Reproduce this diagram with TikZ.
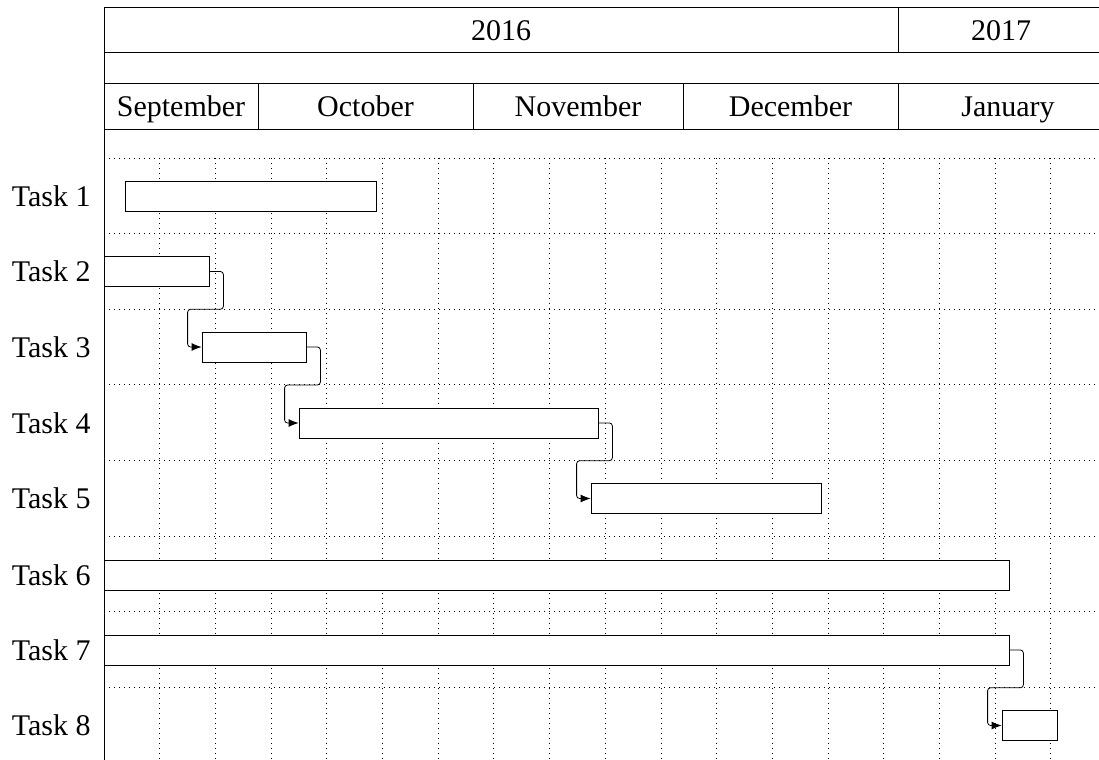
\documentclass[tikz,border=0pt]{standalone}
\usepackage{fontspec}
\setmainfont{Liberation Serif}
\usetikzlibrary{arrows.meta,fit,calc}
\tikzset{
  ganttbar/.style={
    rectangle, draw=black, fill=white, inner sep=0pt
  },
  tasklabel/.style={
    anchor=east, inner sep=0pt,
    font=\fontsize{15}{18}\selectfont
  },
  titlelabel/.style={
    anchor=base, inner sep=0pt, font=\fontsize{15}{18}\selectfont
  },
  gridline/.style={dotted, line width=0.5pt},
  tasklink/.style={
    -{Latex[length=5pt,width=4pt]}, rounded corners=1.5pt
  },
}

\begin{document}
\begin{tikzpicture}[x=0.5pt, y=-0.5pt]
  \useasboundingbox (0,0) rectangle (1099,760);
  % grid
  \foreach \k in {1,...,17}
    \draw[gridline] ({104+55.7*\k},158) -- ({104+55.7*\k},760);
  \foreach \k in {0,...,7}
    \draw[gridline] (104,{158+75.6*\k}) -- (1099,{158+75.6*\k});
  % calendar
  \draw (1099,7) -- (104,7) -- (104,760);
  \foreach \y in {52,83,129} \draw (104,\y) -- (1099,\y);
  \draw (898,7) -- (898,52);
  \foreach \x in {258,473,683,898} \draw (\x,83) -- (\x,129);
  \node[titlelabel] (y2016) at (501,40) {2016};
  \node[titlelabel] (y2017) at (1001,40) {2017};
  \node[titlelabel] (sep) at (181,116) {September};
  \node[titlelabel] (oct) at (365.5,116) {October};
  \node[titlelabel] (nov) at (578,116) {November};
  \node[titlelabel] (dec) at (790.5,116) {December};
  \node[titlelabel] (jan) at (1008,116) {January};
  % tasks
  \foreach \i/\y in {1/196,2/271.5,3/347,4/423,5/498.5,6/575,7/650,8/725.5}
    \node[tasklabel] (l\i) at (91,\y) {Task \i};
  \node[ganttbar, fit={(125,181) (376,211)}] (t1) {};
  \node[ganttbar, fit={(104,256.5) (209,286.5)}] (t2) {};
  \node[ganttbar, fit={(202,332) (306,362)}] (t3) {};
  \node[ganttbar, fit={(299,408) (598,438)}] (t4) {};
  \node[ganttbar, fit={(591,483.5) (821,513.5)}] (t5) {};
  \node[ganttbar, fit={(104,560) (1009,590)}] (t6) {};
  \node[ganttbar, fit={(104,635) (1009,665)}] (t7) {};
  \node[ganttbar, fit={(1002,710.5) (1057,740.5)}] (t8) {};
  % links
  \foreach \a/\b in {t2/t3,t3/t4,t4/t5,t7/t8}
    \draw[tasklink] (\a.east) -- ++(14,0) |- ($(\a.east)!0.5!(\b.west)$)
      -| ([xshift=-7pt]\b.west) -- (\b.west);
\end{tikzpicture}
\end{document}
